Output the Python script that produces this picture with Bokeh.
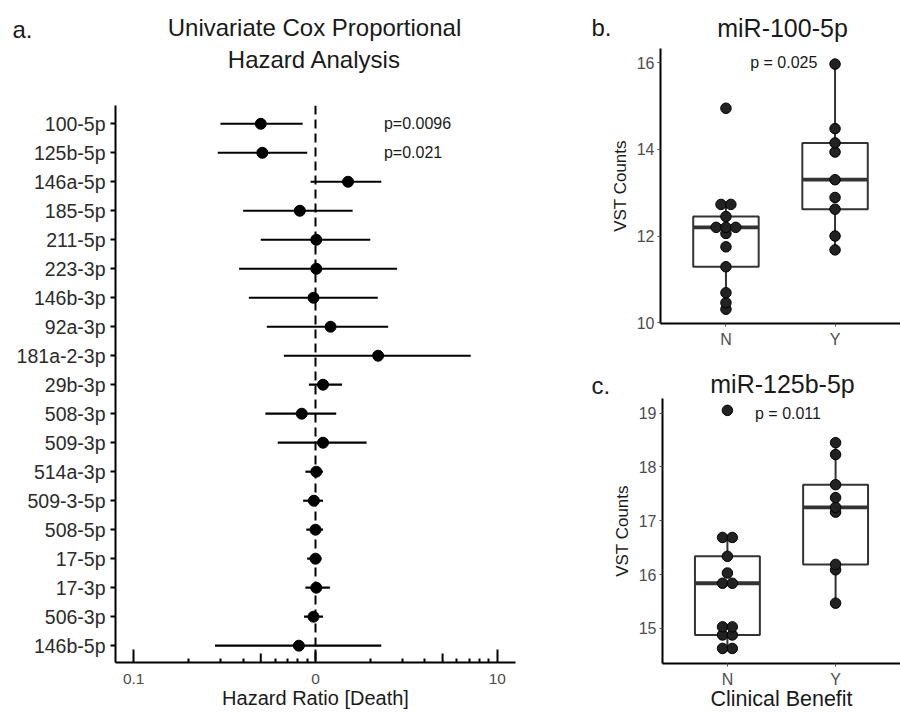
from bokeh.plotting import figure
from bokeh.layouts import row, column
from bokeh.models import Range1d, FixedTicker, Span, ColumnDataSource
from bokeh.core.properties import value
from bokeh.embed import file_html
from bokeh.resources import INLINE
import numpy as np

# ---------------- data ----------------
mirnas = ["100-5p", "125b-5p", "146a-5p", "185-5p", "211-5p", "223-3p", "146b-3p",
          "92a-3p", "181a-2-3p", "29b-3p", "508-3p", "509-3p", "514a-3p", "509-3-5p",
          "508-5p", "17-5p", "17-3p", "506-3p", "146b-5p"]
hr = [0.50, 0.51, 1.51, 0.82, 1.01, 1.01, 0.975, 1.21, 2.21, 1.10, 0.84, 1.10,
      1.01, 0.98, 1.00, 1.00, 1.01, 0.975, 0.81]
hr_lo = [0.30, 0.29, 0.94, 0.40, 0.50, 0.38, 0.43, 0.54, 0.67, 0.92, 0.53, 0.62,
         0.88, 0.855, 0.89, 0.90, 0.88, 0.865, 0.28]
hr_hi = [0.85, 0.90, 2.30, 1.60, 2.00, 2.81, 2.20, 2.51, 7.14, 1.40, 1.30, 1.91,
         1.10, 1.10, 1.10, 1.08, 1.20, 1.10, 2.30]
pval_text = ["p=0.0096", "p=0.021"]
pval_rows = ["100-5p", "125b-5p"]
x_ticks = [0.1, 1, 10]
x_tick_labels = ["0.1", "0", "10"]
x_minor_ticks = [0.2, 0.3, 0.4, 0.6, 0.7, 0.8, 0.9, 2, 3, 4, 6, 7, 8, 9]
x_mid_ticks = [0.5, 5]

groups = ["N", "Y"]
mir100_N = [14.95, 12.73, 12.73, 12.45, 12.20, 12.20, 12.20, 12.06, 11.75, 11.29, 10.69, 10.46, 10.31]
mir100_Y = [15.97, 14.48, 14.15, 13.94, 13.30, 12.89, 12.62, 12.00, 11.68]
mir125_N = [19.05, 16.69, 16.69, 16.34, 16.03, 15.84, 15.84, 15.03, 15.03, 14.88, 14.88, 14.63, 14.63]
mir125_Y = [18.45, 18.23, 17.67, 17.43, 17.25, 17.16, 16.19, 16.09, 15.47]

FONT = "Liberation Sans"


def no_align(p):
    if "frame_align" in p.properties():
        p.frame_align = False


def header(width, height, items):
    """A text-only strip (no axes); coordinates in pixels, y downward."""
    h = figure(width=width, height=height, x_range=Range1d(0, width), y_range=Range1d(height, 0),
               output_backend="svg", toolbar_location=None, min_border=0,
               x_axis_location=None, y_axis_location=None)
    no_align(h)
    h.grid.visible = False
    h.outline_line_color = None
    for text, x, y, size, align in items:
        h.text(x=[x], y=[y], text=[text], text_font=value(FONT), text_font_size=size,
               text_align=align, text_baseline="middle", text_color="#1a1a1a")
    return h


# ---------------- panel a: forest plot ----------------
n = len(mirnas)
ypos = [n - i for i in range(n)]
y_start, y_end = 0.42, n + 0.63
fa_h, fa_top, fa_bottom = 615, 7, 51

pa = figure(width=560, height=fa_h, x_axis_type="log",
            x_range=Range1d(10 ** -1.1, 10 ** 1.1), y_range=Range1d(y_start, y_end),
            output_backend="svg", toolbar_location=None,
            min_border_left=115, min_border_right=45,
            min_border_top=fa_top, min_border_bottom=fa_bottom)
no_align(pa)
pa.grid.visible = False
pa.outline_line_color = None

src = ColumnDataSource(dict(y=ypos, hr=hr, lo=hr_lo, hi=hr_hi, name=mirnas))
pa.add_layout(Span(location=1, dimension="height", line_color="black",
                   line_width=2, line_dash="9 5", level="underlay"))
pa.segment(x0="lo", x1="hi", y0="y", y1="y", source=src, line_color="black", line_width=2.2)
pa.scatter(x="hr", y="y", source=src, size=11, fill_color="black", line_color="black")

# mid-length log ticks (0.5 and 5)
px_per_row = (fa_h - fa_top - fa_bottom) / (y_end - y_start)
pa.segment(x0=x_mid_ticks, x1=x_mid_ticks, y0=[y_start] * 2,
           y1=[y_start + 9 / px_per_row] * 2, line_color="black", line_width=2)

pv_y = [ypos[mirnas.index(r)] for r in pval_rows]
pa.text(x=[2.38] * len(pv_y), y=pv_y, text=pval_text, text_font=value(FONT),
        text_font_size="16px", text_baseline="middle", text_align="left",
        text_color="#1a1a1a")

xa = pa.xaxis[0]
xa.ticker = FixedTicker(ticks=x_ticks, minor_ticks=x_minor_ticks)
xa.major_label_overrides = dict(zip(x_ticks, x_tick_labels))
xa.major_tick_in = 13
xa.major_tick_out = 0
xa.minor_tick_in = 4
xa.minor_tick_out = 0
xa.major_tick_line_width = 2
xa.minor_tick_line_width = 2
xa.axis_line_width = 2
xa.axis_line_color = "black"
xa.major_label_text_font = FONT
xa.major_label_text_font_size = "15.5px"
xa.major_label_text_color = "#4d4d4d"
xa.major_label_standoff = 11
xa.axis_label = "Hazard Ratio [Death]"
xa.axis_label_text_font = FONT
xa.axis_label_text_font_size = "20px"
xa.axis_label_text_font_style = "normal"
xa.axis_label_text_color = "#1a1a1a"
xa.axis_label_standoff = 0

ya = pa.yaxis[0]
ya.ticker = FixedTicker(ticks=ypos)
ya.major_label_overrides = dict(zip(ypos, mirnas))
ya.major_tick_in = 0
ya.major_tick_out = 5
ya.major_tick_line_width = 2
ya.minor_tick_line_color = None
ya.axis_line_width = 2
ya.axis_line_color = "black"
ya.major_label_text_font = FONT
ya.major_label_text_font_size = "19.5px"
ya.major_label_text_color = "#2b2b2b"
ya.major_label_standoff = 5

ha = header(560, 98, [("Univariate Cox Proportional", 314, 27, "24px", "center"),
                      ("Hazard Analysis", 314, 58.5, "24px", "center"),
                      ("a.", 12, 29, "24px", "left")])


# ---------------- panels b, c: box + dot plots ----------------
def box_panel(vals_by_group, y_lo, y_hi, yticks, pv, pv_x, pv_y,
              height, top_b, bottom_b, left_b, xlabel=None):
    p = figure(width=340, height=height, x_range=Range1d(0.4, 2.6), y_range=Range1d(y_lo, y_hi),
               output_backend="svg", toolbar_location=None,
               min_border_left=left_b, min_border_right=0,
               min_border_top=top_b, min_border_bottom=bottom_b)
    no_align(p)
    p.grid.visible = False
    p.outline_line_color = None
    box_w = 0.6
    dot_w = 0.09
    for gi, vals in enumerate(vals_by_group):
        xc = gi + 1
        v = np.array(vals)
        q1, med, q3 = np.percentile(v, [25, 50, 75])
        iqr = q3 - q1
        up = v[v <= q3 + 1.5 * iqr].max()
        lo = v[v >= q1 - 1.5 * iqr].min()
        p.segment(x0=[xc, xc], x1=[xc, xc], y0=[q3, q1], y1=[up, lo],
                  line_color="#333333", line_width=2)
        p.vbar(x=[xc], width=box_w, bottom=[q1], top=[q3], fill_color="white",
               line_color="#333333", line_width=2)
        p.segment(x0=[xc - box_w / 2], x1=[xc + box_w / 2], y0=[med], y1=[med],
                  line_color="#333333", line_width=3.8)
        # dot positions: identical values stacked side by side
        xs, ys = [], []
        for val in sorted(set(vals)):
            k = vals.count(val)
            for j in range(k):
                xs.append(xc + (j - (k - 1) / 2) * dot_w)
                ys.append(val)
        p.scatter(x=xs, y=ys, size=10.5, fill_color="#222222", line_color="black", line_width=1)
    p.text(x=[pv_x], y=[pv_y], text=[pv], text_font=value(FONT), text_font_size="16px",
           text_align="center", text_baseline="middle", text_color="#1a1a1a")

    xa = p.xaxis[0]
    xa.ticker = FixedTicker(ticks=[1, 2])
    xa.major_label_overrides = {1: groups[0], 2: groups[1]}
    xa.major_tick_in = 0
    xa.major_tick_out = 3
    xa.major_tick_line_color = "#4d4d4d"
    xa.minor_tick_line_color = None
    xa.axis_line_width = 2
    xa.axis_line_color = "black"
    xa.major_label_text_font = FONT
    xa.major_label_text_font_size = "16px"
    xa.major_label_text_color = "#4d4d4d"
    xa.major_label_standoff = 4
    if xlabel:
        xa.axis_label = xlabel
        xa.axis_label_text_font = FONT
        xa.axis_label_text_font_size = "21.5px"
        xa.axis_label_text_font_style = "normal"
        xa.axis_label_text_color = "#1a1a1a"
        xa.axis_label_standoff = -4

    ya = p.yaxis[0]
    ya.ticker = FixedTicker(ticks=yticks)
    ya.major_tick_in = 0
    ya.major_tick_out = 3
    ya.major_tick_line_color = "#4d4d4d"
    ya.minor_tick_line_color = None
    ya.axis_line_width = 2
    ya.axis_line_color = "black"
    ya.major_label_text_font = FONT
    ya.major_label_text_font_size = "16px"
    ya.major_label_text_color = "#4d4d4d"
    ya.major_label_standoff = 3
    ya.axis_label = "VST Counts"
    ya.axis_label_text_font = FONT
    ya.axis_label_text_font_size = "17px"
    ya.axis_label_text_font_style = "normal"
    ya.axis_label_text_color = "#1a1a1a"
    ya.axis_label_standoff = 4
    return p


hb = header(340, 43, [("b.", 31, 27, "24px", "left"), ("miR-100-5p", 222, 27, "25px", "center")])
pb = box_panel([mir100_N, mir100_Y], 9.98, 16.33, [10, 12, 14, 16],
               "p = 0.025", 1.53, 16.0, 315, 5, 35, 100)
hc = header(340, 40, [("c.", 31, 27, "24px", "left"), ("miR-125b-5p", 222, 25.5, "25px", "center")])
pc = box_panel([mir125_N, mir125_Y], 14.35, 19.27, [15, 16, 17, 18, 19],
               "p = 0.011", 1.56, 19.0, 315, 0, 50, 102, xlabel="Clinical Benefit")

layout = row(column(ha, pa), column(hb, pb, hc, pc))
open("out.html", "w").write(file_html(layout, INLINE))
